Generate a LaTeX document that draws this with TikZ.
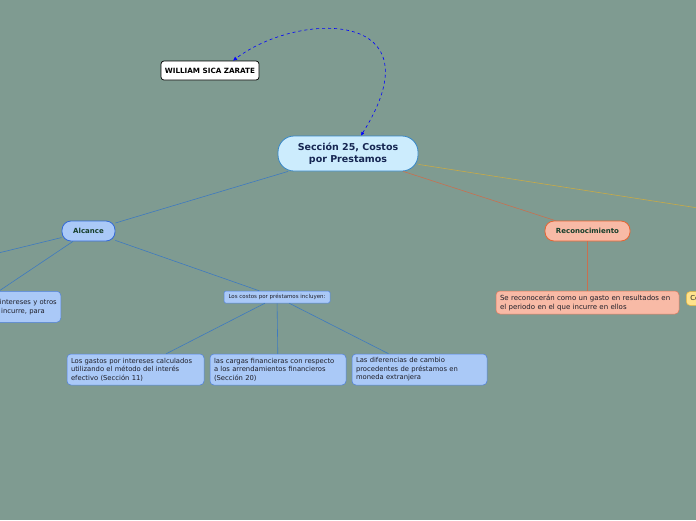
\documentclass[tikz,border=0pt]{standalone}
\usepackage{fontspec}
\setmainfont{DejaVu Sans}
\usetikzlibrary{arrows.meta}
\definecolor{fondo}{RGB}{127,155,145}
\definecolor{temafondo}{RGB}{204,236,253}
\definecolor{temaborde}{RGB}{55,135,200}
\definecolor{tematexto}{RGB}{22,38,82}
\definecolor{ramatexto}{RGB}{22,62,42}
\definecolor{azulfondo}{RGB}{170,201,247}
\definecolor{azulborde}{RGB}{50,105,215}
\definecolor{hojaborde}{RGB}{80,130,222}
\definecolor{lineaazul}{RGB}{62,122,192}
\definecolor{rojofondo}{RGB}{248,186,166}
\definecolor{rojoborde}{RGB}{230,100,50}
\definecolor{hojarojoborde}{RGB}{228,122,92}
\definecolor{linearoja}{RGB}{200,112,80}
\definecolor{amarillofondo}{RGB}{255,226,140}
\definecolor{amarilloborde}{RGB}{230,180,60}
\definecolor{lineaamarilla}{RGB}{200,170,70}
\definecolor{textohoja}{RGB}{30,30,40}
\begin{document}
\begin{tikzpicture}[x=1pt,y=-1pt,
  tema/.style={draw=temaborde,fill=temafondo,line width=0.8pt,rounded corners=16pt,
    minimum width=140pt,minimum height=35pt,align=center,text=tematexto,
    font=\bfseries\fontsize{9.5}{11.5}\selectfont},
  rama/.style={line width=0.8pt,rounded corners=9pt,minimum height=20pt,
    text=ramatexto,font=\bfseries\fontsize{7}{8}\selectfont},
  hoja/.style={rounded corners=4pt,line width=0.5pt,inner xsep=4pt,align=left,
    text=textohoja,font=\fontsize{6.8}{8.6}\selectfont},
  hojaazul/.style={hoja,draw=hojaborde,fill=azulfondo},
  autor/.style={draw=black,fill=white,line width=0.7pt,rounded corners=3pt,
    minimum width=98pt,minimum height=19pt,font=\bfseries\fontsize{7.2}{8}\selectfont}]
\useasboundingbox (0,0) rectangle (696,520);
\fill[fondo] (0,0) rectangle (696,520);
\clip (0,0) rectangle (696,520);

\node[tema] (seccion) at (348,153.5) {Sección 25, Costos\\por Prestamos};
\node[autor] (autor) at (210,70.5) {WILLIAM SICA ZARATE};

\node[rama,draw=azulborde,fill=azulfondo,minimum width=53pt] (alcance) at (88.5,231) {Alcance};
\node[rama,draw=rojoborde,fill=rojofondo,minimum width=85pt] (reconocimiento) at (587.5,231) {Reconocimiento};

\coordinate (fueraizq) at (-100,277);
\coordinate (fueradcha) at (820,227);

\node[hojaazul,anchor=north east,text width=240pt,minimum height=31pt,align=right] (definicion) at (61,291)
  {Los costos por préstamos son los intereses y otros\\costos en los que una entidad incurre, para\hspace*{12pt}};
\node[hojaazul,rounded corners=1.5pt,inner xsep=4pt,inner ysep=2pt,minimum width=106pt,minimum height=12pt,
  font=\fontsize{5.5}{6}\selectfont] (incluyen) at (277,297) {Los costos por préstamos incluyen:};
\node[hojaazul,text width=129pt,minimum height=31pt] (gastos) at (135.5,369.5)
  {Los gastos por intereses calculados\\utilizando el método del interés\\efectivo (Sección 11)};
\node[hojaazul,text width=128pt,minimum height=31pt] (cargas) at (278,369.5)
  {las cargas financieras con respecto\\a los arrendamientos financieros\\(Sección 20)};
\node[hojaazul,text width=127pt,minimum height=31pt] (cambio) at (419.5,369.5)
  {Las diferencias de cambio\\procedentes de préstamos en\\moneda extranjera};

\node[hoja,draw=hojarojoborde,fill=rojofondo,text width=175pt,minimum height=23pt,
  font=\fontsize{7}{9}\selectfont] (gasto) at (587.5,302.5)
  {Se reconocerán como un gasto en resultados en\\el periodo en el que incurre en ellos};
\node[hoja,draw=amarilloborde,fill=amarillofondo,anchor=west,minimum height=14pt] (otros) at (686,298.5)
  {Costos por préstamos};

\draw[lineaazul,line width=0.6pt] (seccion) -- (alcance);
\draw[linearoja,line width=0.6pt] (seccion) -- (reconocimiento);
\draw[lineaamarilla,line width=0.6pt] (seccion) -- (fueradcha);
\draw[lineaazul,line width=0.6pt] (alcance) -- (fueraizq);
\draw[lineaazul,line width=0.6pt] (alcance) -- ([xshift=-62pt]definicion.north east);
\draw[lineaazul,line width=0.6pt] (alcance) -- (incluyen);
\draw[lineaazul,line width=0.6pt] (incluyen) -- (gastos);
\draw[lineaazul,line width=0.6pt] (incluyen) -- (cargas);
\draw[lineaazul,line width=0.6pt] (incluyen) -- (cambio);
\draw[linearoja,line width=0.6pt] (reconocimiento) -- (gasto);

\draw[blue,dashed,line width=0.6pt,{Latex[length=3.5pt,width=3.5pt]}-{Latex[length=4pt,width=4pt]}]
  ([xshift=13pt]seccion.north) .. controls (440,10) and (300,10) .. ([xshift=23pt]autor.north);
\end{tikzpicture}
\end{document}
